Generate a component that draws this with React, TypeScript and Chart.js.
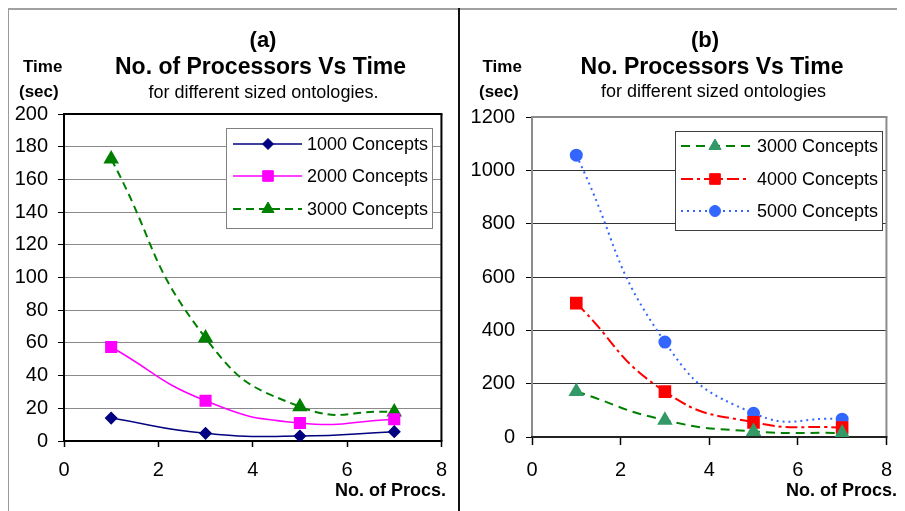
import React, { useEffect, useRef } from 'react';
import { Chart, registerables } from 'chart.js';

Chart.register(...registerables);

// ---------- data ----------
const PROCS = [1, 3, 5, 7];

const A_LABELS = ['1000 Concepts', '2000 Concepts', '3000 Concepts'];
const A_1000 = [14, 4.7, 3, 5.7];
const A_2000 = [57.5, 24.6, 11, 13.3];
const A_3000 = [172.5, 63, 21, 17.7];

const B_LABELS = ['3000 Concepts', '4000 Concepts', '5000 Concepts'];
const B_3000 = [171, 63, 21, 15];
const B_4000 = [502, 170, 55, 35];
const B_5000 = [1057, 356, 89, 67];

const X_MIN = 0;
const X_MAX = 8;
const X_STEP = 2;
const A_Y_MAX = 200;
const A_Y_STEP = 20;
const B_Y_MAX = 1200;
const B_Y_STEP = 200;

const A_TITLES = ['(a)', 'No. of Processors Vs Time', 'for different sized ontologies.'];
const B_TITLES = ['(b)', 'No. Processors Vs Time', 'for different sized ontologies'];
const Y_TITLE = ['Time', '(sec)'];
const X_TITLE = 'No. of Procs.';

const FONT = "'Liberation Sans', Arial, Helvetica, sans-serif";

function pts(ys: number[]) {
  return PROCS.map((x, i) => ({ x, y: ys[i] }));
}

// ---------- helpers / plugins ----------
function drawMarker(ctx: CanvasRenderingContext2D, style: string, x: number, y: number, r: number, fill: string, stroke: string) {
  ctx.save();
  ctx.setLineDash([]);
  ctx.beginPath();
  if (style === 'rectRot') {
    ctx.moveTo(x, y - r);
    ctx.lineTo(x + r, y);
    ctx.lineTo(x, y + r);
    ctx.lineTo(x - r, y);
    ctx.closePath();
  } else if (style === 'rect') {
    const s = r * Math.SQRT1_2;
    ctx.rect(x - s, y - s, 2 * s, 2 * s);
  } else if (style === 'triangle') {
    for (let k = 0; k < 3; k++) {
      const a = (k * 2 * Math.PI) / 3;
      const px = x + Math.sin(a) * r;
      const py = y - Math.cos(a) * r;
      if (k === 0) ctx.moveTo(px, py);
      else ctx.lineTo(px, py);
    }
    ctx.closePath();
  } else {
    ctx.arc(x, y, r, 0, Math.PI * 2);
  }
  ctx.fillStyle = fill;
  ctx.fill();
  ctx.lineWidth = 1;
  ctx.strokeStyle = stroke;
  ctx.stroke();
  ctx.restore();
}

type TextItem = { text: string; x: number; y: number; font: string; align: CanvasTextAlign };

function textPlugin(items: TextItem[]) {
  return {
    id: 'panelText',
    afterDraw(chart: any) {
      const ctx = chart.ctx as CanvasRenderingContext2D;
      ctx.save();
      ctx.fillStyle = '#000';
      ctx.textBaseline = 'middle';
      for (const it of items) {
        ctx.font = it.font;
        ctx.textAlign = it.align;
        ctx.fillText(it.text, it.x, it.y);
      }
      ctx.restore();
    },
  };
}

function framePlugin(c: { top: string; right: string; bottom: string; left: string }, width: number) {
  return {
    id: 'plotFrame',
    beforeDatasetsDraw(chart: any) {
      const { left, top, right, bottom } = chart.chartArea;
      const ctx = chart.ctx as CanvasRenderingContext2D;
      ctx.save();
      ctx.lineWidth = width;
      const seg = (x0: number, y0: number, x1: number, y1: number, col: string) => {
        ctx.strokeStyle = col;
        ctx.beginPath();
        ctx.moveTo(x0, y0);
        ctx.lineTo(x1, y1);
        ctx.stroke();
      };
      seg(left - 1, top, right + 1, top, c.top);
      seg(right, top, right, bottom, c.right);
      seg(left, top - 1, left, bottom + 1, c.left);
      seg(left - 1, bottom, right + 1, bottom, c.bottom);
      ctx.restore();
    },
  };
}

function legendPlugin(o: {
  box: [number, number, number, number];
  rows: number[];
  x0: number;
  x1: number;
  mx: number;
  tx: number;
  border: string;
}) {
  return {
    id: 'boxLegend',
    afterDatasetsDraw(chart: any) {
      const ctx = chart.ctx as CanvasRenderingContext2D;
      const [l, t, r, b] = o.box;
      ctx.save();
      ctx.fillStyle = '#fff';
      ctx.fillRect(l, t, r - l, b - t);
      ctx.strokeStyle = o.border;
      ctx.lineWidth = 1;
      ctx.strokeRect(l + 0.5, t + 0.5, r - l, b - t);
      chart.data.datasets.forEach((ds: any, i: number) => {
        const y = o.rows[i];
        ctx.save();
        ctx.strokeStyle = ds.borderColor;
        ctx.lineWidth = ds.borderWidth;
        ctx.setLineDash(ds.borderDash || []);
        ctx.beginPath();
        ctx.moveTo(o.x0, y);
        ctx.lineTo(o.x1, y);
        ctx.stroke();
        ctx.restore();
        drawMarker(ctx, ds.pointStyle, o.mx, y, ds.pointRadius, ds.pointBackgroundColor, ds.pointBorderColor);
        ctx.fillStyle = '#000';
        ctx.font = `18px ${FONT}`;
        ctx.textAlign = 'left';
        ctx.textBaseline = 'middle';
        ctx.fillText(ds.label, o.tx, y + 1);
      });
      ctx.restore();
    },
  };
}

function makeScales(yMax: number, yStep: number, yWidth: number, xHeight: number, gridColor: string, xTick: number, xPad: number, yPad: number) {
  return {
    x: {
      type: 'linear' as const,
      min: X_MIN,
      max: X_MAX,
      ticks: { stepSize: X_STEP, color: '#000', font: { family: FONT, size: 20 }, padding: xPad, maxRotation: 0, callback: (v: any) => String(v) },
      grid: { drawOnChartArea: false, drawTicks: true, tickLength: xTick, tickColor: '#000', tickWidth: 1.5 },
      border: { display: false },
      afterFit: (s: any) => {
        s.height = xHeight;
      },
    },
    y: {
      type: 'linear' as const,
      min: 0,
      max: yMax,
      ticks: { stepSize: yStep, color: '#000', font: { family: FONT, size: 20 }, padding: yPad, callback: (v: any) => String(v) },
      grid: { color: gridColor, lineWidth: 1, drawTicks: true, tickLength: 6, tickColor: '#000' },
      border: { display: false },
      afterFit: (s: any) => {
        s.width = yWidth;
      },
    },
  };
}

function configA() {
  const ds = [
    { label: A_LABELS[0], data: pts(A_1000), color: '#000080', fill: '#000080', dash: [] as number[], width: 1.5, style: 'rectRot', r: 5.5 },
    { label: A_LABELS[1], data: pts(A_2000), color: '#ff00ff', fill: '#ff00ff', dash: [] as number[], width: 1.5, style: 'rect', r: 7.5 },
    { label: A_LABELS[2], data: pts(A_3000), color: '#008000', fill: '#008000', dash: [8, 5], width: 2, style: 'triangle', r: 7 },
  ];
  return {
    type: 'line' as const,
    data: {
      datasets: ds.map((d) => ({
        label: d.label,
        data: d.data,
        borderColor: d.color,
        backgroundColor: d.fill,
        pointBackgroundColor: d.fill,
        pointBorderColor: d.color,
        borderWidth: d.width,
        borderDash: d.dash,
        pointStyle: d.style,
        pointRadius: d.r,
        tension: 0.5,
        fill: false,
      })),
    },
    options: {
      responsive: false,
      animation: false as const,
      layout: { padding: { top: 106, right: 14, left: 0, bottom: 0 } },
      plugins: { legend: { display: false }, tooltip: { enabled: false }, title: { display: false } },
      scales: makeScales(A_Y_MAX, A_Y_STEP, 56, 70, '#8a8a8a', 6, 11, 10),
    },
    plugins: [
      framePlugin({ top: '#000', right: '#000', bottom: '#000', left: '#000' }, 2),
      legendPlugin({ box: [218, 120, 424, 220], rows: [136, 168, 201], x0: 225, x1: 294, mx: 260, tx: 299, border: '#808080' }),
      textPlugin([
        { text: A_TITLES[0], x: 255, y: 33, font: `bold 22px ${FONT}`, align: 'center' },
        { text: A_TITLES[1], x: 252.5, y: 60, font: `bold 23px ${FONT}`, align: 'center' },
        { text: A_TITLES[2], x: 255.5, y: 85, font: `18px ${FONT}`, align: 'center' },
        { text: Y_TITLE[0], x: 15, y: 59.5, font: `bold 17px ${FONT}`, align: 'left' },
        { text: Y_TITLE[1], x: 11, y: 84.5, font: `bold 17px ${FONT}`, align: 'left' },
        { text: X_TITLE, x: 438, y: 483, font: `bold 18px ${FONT}`, align: 'right' },
      ]),
    ],
  };
}

function configB() {
  const ds = [
    { label: B_LABELS[0], data: pts(B_3000), color: '#008000', fill: '#339966', dash: [9, 6], width: 2, style: 'triangle', r: 7 },
    { label: B_LABELS[1], data: pts(B_4000), color: '#ff0000', fill: '#ff0000', dash: [12, 4, 3, 4], width: 2, style: 'rect', r: 7.5 },
    { label: B_LABELS[2], data: pts(B_5000), color: '#3366ff', fill: '#3366ff', dash: [2, 4], width: 2, style: 'circle', r: 5.5 },
  ];
  return {
    type: 'line' as const,
    data: {
      datasets: ds.map((d) => ({
        label: d.label,
        data: d.data,
        borderColor: d.color,
        backgroundColor: d.fill,
        pointBackgroundColor: d.fill,
        pointBorderColor: d.fill,
        borderWidth: d.width,
        borderDash: d.dash,
        pointStyle: d.style,
        pointRadius: d.r,
        tension: 0.5,
        fill: false,
      })),
    },
    options: {
      responsive: false,
      animation: false as const,
      layout: { padding: { top: 109, right: 11, left: 0, bottom: 0 } },
      plugins: { legend: { display: false }, tooltip: { enabled: false }, title: { display: false } },
      scales: makeScales(B_Y_MAX, B_Y_STEP, 72, 74, '#333333', 8, 13, 11),
    },
    plugins: [
      framePlugin({ top: '#8c8c8c', right: '#8c8c8c', bottom: '#222', left: '#8c8c8c' }, 2),
      legendPlugin({ box: [215, 123, 422, 222], rows: [138, 171, 203], x0: 221, x1: 290, mx: 255, tx: 297, border: '#404040' }),
      textPlugin([
        { text: B_TITLES[0], x: 245, y: 33, font: `bold 22px ${FONT}`, align: 'center' },
        { text: B_TITLES[1], x: 252, y: 60, font: `bold 23px ${FONT}`, align: 'center' },
        { text: B_TITLES[2], x: 253.5, y: 84, font: `18px ${FONT}`, align: 'center' },
        { text: Y_TITLE[0], x: 22.5, y: 59.5, font: `bold 17px ${FONT}`, align: 'left' },
        { text: Y_TITLE[1], x: 19, y: 84.5, font: `bold 17px ${FONT}`, align: 'left' },
        { text: X_TITLE, x: 437, y: 483, font: `bold 18px ${FONT}`, align: 'right' },
      ]),
    ],
  };
}

function ChartCanvas({ make, width, height, left }: { make: () => any; width: number; height: number; left: number }) {
  const ref = useRef<HTMLCanvasElement | null>(null);
  useEffect(() => {
    if (!ref.current) return;
    const chart = new Chart(ref.current, make());
    return () => chart.destroy();
  }, []);
  return (
    <canvas
      ref={ref}
      width={width}
      height={height}
      style={{ position: 'absolute', left, top: 0, width, height, display: 'block' }}
    />
  );
}

export default function App() {
  useEffect(() => {
    document.body.style.overflow = 'hidden';
    document.documentElement.style.overflow = 'hidden';
  }, []);
  return (
    <div style={{ position: 'relative', width: 897, height: 503, overflow: 'hidden', background: '#fff' }}>
      <div style={{ position: 'absolute', left: 0, top: 0, width: 1, height: 503, background: '#9a9a9a' }} />
      <div style={{ position: 'absolute', left: 0, top: 0, width: 897, height: 2, background: '#a0a0a0' }} />
      <div style={{ position: 'absolute', left: 450, top: 0, width: 2, height: 503, background: '#111' }} />
      <ChartCanvas make={configA} width={450} height={503} left={0} />
      <ChartCanvas make={configB} width={445} height={503} left={452} />
    </div>
  );
}
